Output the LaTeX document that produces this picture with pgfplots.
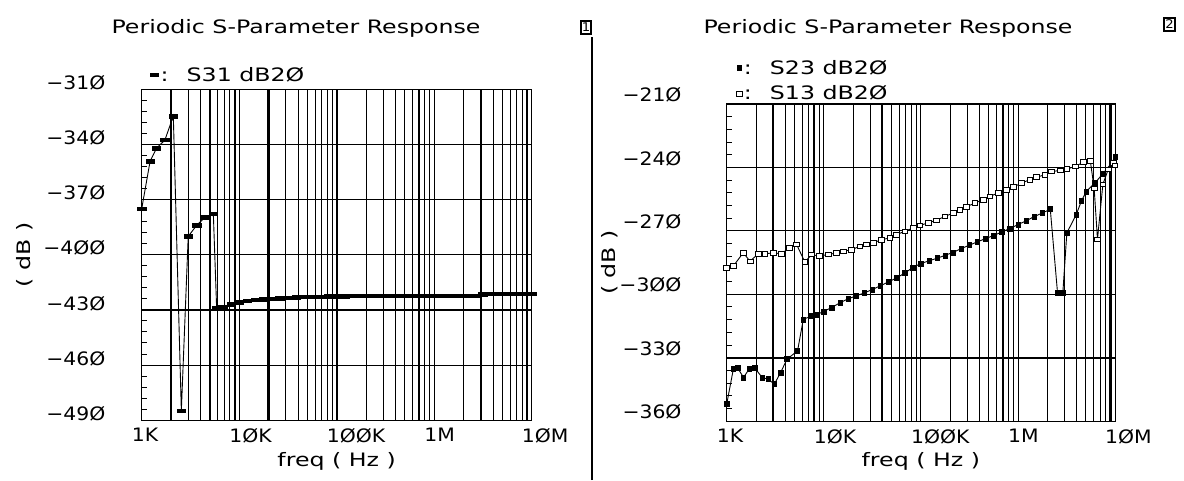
\documentclass[border=0pt]{standalone}
\usepackage{fontspec}
\setmainfont{DejaVu Sans}[FakeStretch=1.1]
\newfontfamily\wfont{DejaVu Sans}[FakeStretch=1.28]
\usepackage{pgfplots}
\pgfplotsset{compat=1.18}
\newcommand\tkfont{\fontsize{18.5}{21}\selectfont}
\newcommand\txfont{\wfont\fontsize{18.5}{21}\selectfont}
\begin{document}
\begin{tikzpicture}
\path[use as bounding box] (0pt,0pt) rectangle (1184pt,480pt);
% titles and panel decorations
\node[anchor=base, font=\txfont] at (296pt,446.5pt) {Periodic S-Parameter Response};
\node[anchor=base, font=\txfont] at (888pt,446.5pt) {Periodic S-Parameter Response};
\node[draw, line width=1.8pt, inner xsep=1pt, inner ysep=2pt, font=\fontsize{12}{12}\selectfont] at (586pt,452.5pt) {1};
\node[draw, line width=1.8pt, inner xsep=1pt, inner ysep=2pt, font=\fontsize{12}{12}\selectfont] at (1169.5pt,455.5pt) {2};
\draw[line width=1.2pt] (592pt,0pt) -- (592pt,443pt);

% left panel
\begin{axis}[
  xmode=log, log basis x=10, xmin=1e3, xmax=1e7,
  scale only axis, anchor=south west,
  at={(141.7pt,60pt)}, width=390pt, height=330.5pt,
  axis line style={black, line width=1pt},
  xtick={1e3,1e4,1e5,1e6,1e7},
  xticklabels={1K,1ØK,1ØØK,1M,1ØM},
  minor xtick={2e3,3e3,4e3,5e3,6e3,7e3,8e3,9e3,2e4,3e4,4e4,5e4,6e4,7e4,8e4,9e4,2e5,3e5,4e5,5e5,6e5,7e5,8e5,9e5,2e6,3e6,4e6,5e6,6e6,7e6,8e6,9e6},
  xmajorgrids, xminorgrids, ymajorgrids,
  grid style={black, line width=0.8pt},
  minor grid style={black, line width=0.8pt},
  tick align=inside, tick pos=left,
  major tick length=0pt, minor tick length=5pt,
  minor y tick num=4,
  tick style={black, line width=0.8pt},
  xticklabel style={font=\tkfont, anchor=north west, inner sep=0pt, xshift=-10pt, yshift=-8pt},
  ymin=-490, ymax=-310,
  ytick={-490,-460,-430,-400,-370,-340,-310},
  yticklabels={},
  extra y ticks={-430}, extra y tick labels={},
  extra x ticks={2e3,5e3,9e3,2e4,1e5,7e5,3e6,9e6}, extra x tick labels={},
  extra tick style={grid=major, major grid style={black, line width=2.2pt}, major tick length=0pt},
  ylabel={( dB )},
  ylabel style={font=\txfont, at={(axis description cs:-0.2992,0.5)}, anchor=center},
  xlabel={freq ( Hz )},
  xlabel style={font=\txfont, at={(axis description cs:0.5,-0.124)}, anchor=center},
  clip=false,
  legend style={draw=none, fill=none, inner sep=0pt, font=\txfont, at={(axis description cs:0.0213,1.014)}, anchor=south west},
  legend cell align=left,
]
\addplot[black, line width=0.9pt, mark=square*, mark size=1.7pt,
  mark options={fill=black, xscale=2.5, line width=0.6pt},
  legend image code/.code={\draw[black, mark=square*, mark size=1.7pt, mark options={fill=black, xscale=2.5, line width=0.6pt}] plot coordinates {(0pt,0pt)};}]
coordinates {
(1000,-375) (1220,-349) (1420,-342) (1730,-337.5) (2110,-324.5) (2550,-485)
(3000,-390) (3660,-384) (4460,-379.6) (5430,-377.8) (5870,-429)
(6813,-428.2) (8254,-427) (10000,-425.8) (12115,-425) (14678,-424.6) (17783,-424.3)
(21544,-424) (26102,-423.7) (31623,-423.4) (38312,-423.2) (46416,-423) (56234,-422.9)
(68129,-422.8) (82540,-422.7) (100000,-422.6) (121153,-422.6) (146780,-422.5)
(177828,-422.5) (215443,-422.5) (261016,-422.5) (316228,-422.5) (383119,-422.4)
(464159,-422.4) (562341,-422.4) (681292,-422.4) (825404,-422.4) (1000000,-422.4)
(1211528,-422.4) (1467799,-422.4) (1778279,-422.4) (2154435,-422.4) (2610157,-422.3)
(3162278,-421.6) (3831187,-421.4) (4641589,-421.4) (5623413,-421.4) (6812921,-421.3)
(8254042,-421.3) (10000000,-421.3)
};
\addlegendentry{:\hspace{18pt}S31 dB2Ø}
\foreach \v/\t in {-310/−31Ø,-340/−34Ø,-370/−37Ø,-400/−4ØØ,-430/−43Ø,-460/−46Ø,-490/−49Ø}{
  \edef\temp{\noexpand\node[font=\noexpand\tkfont, anchor=east, inner sep=0pt] at ([xshift=-36.2pt,yshift=6.5pt]axis cs:1000,\v) {\t};}
  \temp
}
\end{axis}

% right panel
\begin{axis}[
  xmode=log, log basis x=10, xmin=1e3, xmax=1e7,
  scale only axis, anchor=south west,
  at={(726.7pt,59pt)}, width=388.3pt, height=317pt,
  axis line style={black, line width=1pt},
  xtick={1e3,1e4,1e5,1e6,1e7},
  xticklabels={1K,1ØK,1ØØK,1M,1ØM},
  minor xtick={2e3,3e3,4e3,5e3,6e3,7e3,8e3,9e3,2e4,3e4,4e4,5e4,6e4,7e4,8e4,9e4,2e5,3e5,4e5,5e5,6e5,7e5,8e5,9e5,2e6,3e6,4e6,5e6,6e6,7e6,8e6,9e6},
  xmajorgrids, xminorgrids, ymajorgrids,
  grid style={black, line width=0.8pt},
  minor grid style={black, line width=0.8pt},
  tick align=inside, tick pos=left,
  major tick length=0pt, minor tick length=5pt,
  minor y tick num=4,
  tick style={black, line width=0.8pt},
  xticklabel style={font=\tkfont, anchor=north west, inner sep=0pt, xshift=-10pt, yshift=-8pt},
  ymin=-360, ymax=-210,
  ytick={-360,-330,-300,-270,-240,-210},
  yticklabels={},
  extra y ticks={-330}, extra y tick labels={},
  extra x ticks={3e3,8e3,4e4,7e5,9e6}, extra x tick labels={},
  extra tick style={grid=major, major grid style={black, line width=2.2pt}, major tick length=0pt},
  ylabel={( dB )},
  ylabel style={font=\txfont, at={(axis description cs:-0.3005,0.5)}, anchor=center},
  xlabel={freq ( Hz )},
  xlabel style={font=\txfont, at={(axis description cs:0.5,-0.126)}, anchor=center},
  clip=false,
  legend style={draw=none, fill=none, inner sep=0pt, font=\txfont, at={(axis description cs:0.024,1.001)}, anchor=south west, row sep=6pt},
  legend cell align=left,
]
\addplot[black, line width=0.9pt, mark=square*, mark size=2.5pt,
  mark options={fill=black, xscale=0.85, line width=0.6pt},
  legend image code/.code={\draw[black, mark=square*, mark size=2.5pt, mark options={fill=black, xscale=0.85, line width=0.6pt}] plot coordinates {(0pt,0pt)};}]
coordinates {
(1000,-352) (1170,-335.5) (1300,-335) (1490,-339.4) (1700,-335.5) (1950,-335)
(2320,-339.4) (2660,-340.2) (3100,-342.5) (3600,-337) (4170,-330.8) (5370,-326.8)
(6150,-311.9) (7500,-310.3) (8254,-309.8) (10000,-308.2) (12115,-306.2) (14678,-304.1)
(17783,-302.2) (21544,-300.8) (26102,-299.4) (31623,-297.8) (38312,-296.0) (46416,-294.2)
(56234,-292.3) (68129,-290.0) (82540,-287.4) (100000,-285.5) (121153,-284.2) (146780,-283.0)
(177828,-281.6) (215443,-280.2) (261016,-278.4) (316228,-276.8) (383119,-275.2) (464159,-273.7)
(562341,-272.2) (681292,-270.6) (825404,-268.9) (1000000,-267.1) (1211528,-265.3) (1467799,-263.3)
(1778279,-261.6) (2154435,-259.8) (2560000,-299.5) (2900000,-299.5) (3190000,-271) (3980000,-262.4)
(4500000,-256) (5060000,-251.4) (6200000,-247.4) (7500000,-243) (9200000,-238) (10000000,-235)
};
\addlegendentry{:\hspace{18pt}S23 dB2Ø}
\addplot[black, line width=0.9pt, mark=square*, mark size=2.3pt,
  mark options={fill=white, xscale=1.25, line width=0.8pt},
  legend image code/.code={\draw[black, mark=square*, mark size=2.3pt, mark options={fill=white, xscale=1.25, line width=0.8pt}] plot coordinates {(0pt,0pt)};}]
coordinates {
(1000,-287.5) (1170,-286.7) (1480,-280.4) (1740,-284.4) (2120,-280.8) (2480,-280.8)
(3020,-280.5) (3680,-280.8) (4410,-278.1) (5250,-276.5) (6390,-284.8) (7500,-281.2)
(8980,-282) (11100,-281.2) (13600,-280.5) (15900,-279.7) (19400,-278.9) (23600,-277.3)
(27600,-276.5) (32300,-275.7) (39400,-274.2) (48000,-273.4) (56300,-271.8) (68600,-270.2)
(83700,-268.6) (98000,-267.5) (119000,-266.2) (145000,-265) (177000,-263.2) (215000,-261.6)
(252000,-260) (295000,-258.7) (360000,-256.8) (438000,-255.3) (514000,-253.7) (626000,-252.1)
(763000,-250.6) (895000,-249.3) (1090000,-247.4) (1330000,-245.8) (1560000,-244.6) (1900000,-243.5)
(2230000,-241.9) (2720000,-241.5) (3190000,-240.8) (3890000,-239.5) (4750000,-237.5) (5570000,-237)
(6100000,-250) (6600000,-274) (7500000,-248) (8500000,-241) (9600000,-238) (10000000,-239)
};
\addlegendentry{:\hspace{18pt}S13 dB2Ø}
\foreach \v/\t in {-210/−21Ø,-240/−24Ø,-270/−27Ø,-300/−3ØØ,-330/−33Ø,-360/−36Ø}{
  \edef\temp{\noexpand\node[font=\noexpand\tkfont, anchor=east, inner sep=0pt] at ([xshift=-45pt,yshift=9pt]axis cs:1000,\v) {\t};}
  \temp
}
\end{axis}
\end{tikzpicture}
\end{document}
